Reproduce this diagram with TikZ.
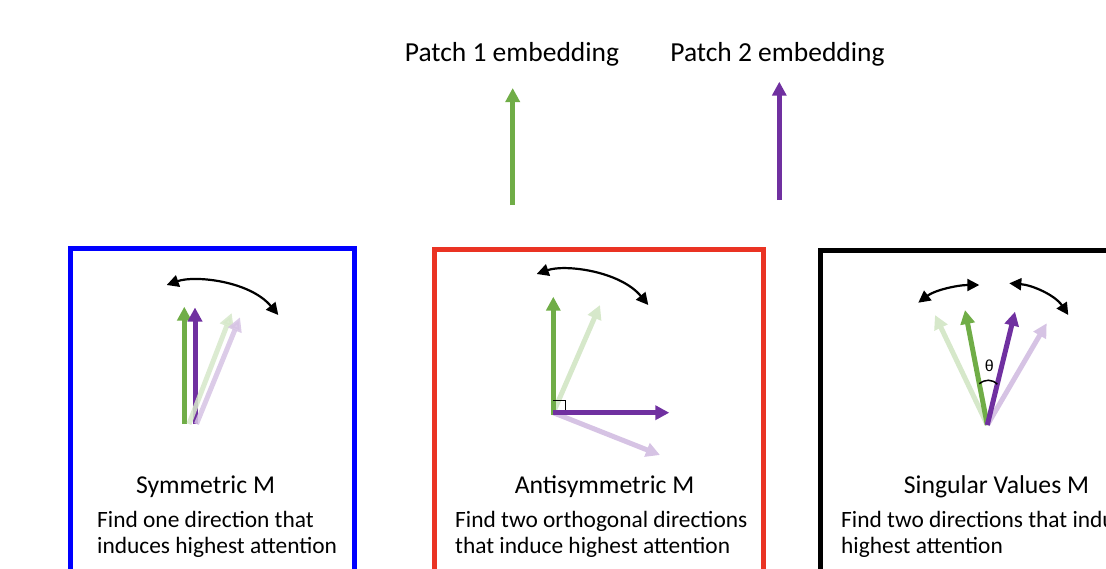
\documentclass[tikz,border=0pt]{standalone}
\usepackage{fontspec}
\setmainfont{Carlito}
\newfontfamily\thetafont{Liberation Sans}
\usetikzlibrary{arrows.meta,calc}
\definecolor{pgreen}{RGB}{112,173,71}
\definecolor{ppurple}{RGB}{112,48,160}
\definecolor{lgreen}{RGB}{214,232,202}
\definecolor{lpurple}{RGB}{214,195,228}
\definecolor{bblue}{RGB}{0,0,255}
\definecolor{rred}{RGB}{234,51,35}
\begin{document}
\begin{tikzpicture}[x=1pt,y=-1pt,
  vec/.style={line width=5pt,-{Triangle[length=14pt,width=14pt]}},
  gvec/.style={vec,draw=pgreen,fill=pgreen},
  pvec/.style={vec,draw=ppurple,fill=ppurple},
  lgvec/.style={vec,draw=lgreen,fill=lgreen},
  lpvec/.style={vec,draw=lpurple,fill=lpurple},
  rot/.style={line width=2.2pt,draw=black,{Triangle[length=12pt,width=12pt]}-{Triangle[length=12pt,width=12pt]}},
  panel/.style={line width=5pt},
  title/.style={font=\fontsize{25.7}{30}\selectfont,anchor=base,inner sep=0pt},
  desc/.style={font=\fontsize{23.4}{28}\selectfont,anchor=base west,inner sep=0pt},
  lbl/.style={font=\fontsize{27.5}{33}\selectfont,anchor=base,inner sep=0pt}]
\useasboundingbox (0,0) rectangle (1106,568);
\clip (0,0) rectangle (1106,568);

% top labels and arrows
\node[lbl] (p1) at (512,61) {Patch 1 embedding};
\node[lbl] (p2) at (777.5,61) {Patch 2 embedding};
\coordinate (t1a) at (512.7,205);
\coordinate (t1b) at (512.7,88);
\coordinate (t2a) at (779.3,200);
\coordinate (t2b) at (779.3,81.7);
\draw[gvec] (t1a) -- (t1b);
\draw[pvec] (t2a) -- (t2b);

% panels
\draw[panel,draw=bblue] (70.7,600) -- (70.7,248.7) -- (354,248.7) -- (354,600);
\draw[panel,draw=rred] (434.5,600) -- (434.5,249.3) -- (763.5,249.3) -- (763.5,600);
\draw[panel,draw=black] (820.3,600) -- (820.3,250.3) -- (1120,250.3);

% panel 1: symmetric
\coordinate (s1g0) at (184.3,424);
\coordinate (s1g1) at (184.3,306.7);
\coordinate (s1p0) at (195,424);
\coordinate (s1p1) at (195,307.5);
\coordinate (s1lg0) at (189,424);
\coordinate (s1lg1) at (231.7,313);
\coordinate (s1lp0) at (196.5,424);
\coordinate (s1lp1) at (240,317.3);
\draw[gvec] (s1g0) -- (s1g1);
\draw[pvec] (s1p0) -- (s1p1);
\draw[lgvec,opacity=0.85] (s1lg0) -- (s1lg1);
\draw[lpvec,opacity=0.85] (s1lp0) -- (s1lp1);
\coordinate (s1ra) at (166.7,285);
\coordinate (s1rb) at (278.3,315);
\draw[rot] (s1ra) .. controls (195,275) and (250,281) .. (s1rb);
\node[title] (s1t) at (205.5,493) {Symmetric M};
\node[desc] (s1d1) at (97,527) {Find one direction that};
\node[desc] (s1d2) at (97,553) {induces highest attention};

% panel 2: antisymmetric
\coordinate (s2o) at (553.3,412.7);
\coordinate (s2g1) at (553.3,296.7);
\coordinate (s2lg1) at (600,305);
\coordinate (s2p1) at (669.3,412.7);
\coordinate (s2lp1) at (660,455);
\draw[lgvec] (s2o) -- (s2lg1);
\draw[lpvec] (s2o) -- (s2lp1);
\draw[gvec] ($(s2o)+(0,2.5)$) -- (s2g1);
\draw[pvec] (s2o) -- (s2p1);
\coordinate (s2q1) at (553.3,400.7);
\coordinate (s2q2) at (565.7,400.7);
\coordinate (s2q3) at (565.7,410.2);
\draw[line width=1.5pt,black] (s2q1) -- (s2q2) -- (s2q3);
\coordinate (s2ra) at (536.7,274);
\coordinate (s2rb) at (648.3,305);
\draw[rot] (s2ra) .. controls (565,264) and (620,271) .. (s2rb);
\node[title] (s2t) at (604.5,493) {Antisymmetric M};
\node[desc] (s2d1) at (455,527) {Find two orthogonal directions};
\node[desc] (s2d2) at (455,553) {that induce highest attention};

% panel 3: singular values
\coordinate (s3o) at (987.3,425);
\coordinate (s3g1) at (965,310);
\coordinate (s3p1) at (1015,311.7);
\coordinate (s3lg1) at (935,315);
\coordinate (s3lp1) at (1046.7,323.3);
\draw[lgvec] (s3o) -- (s3lg1);
\draw[lpvec] (s3o) -- (s3lp1);
\draw[gvec] (s3o) -- (s3g1);
\draw[pvec] (s3o) -- (s3p1);
\coordinate (s3a1) at ($(s3o)!42pt!(s3g1)$);
\coordinate (s3a2) at ($(s3o)!42pt!(s3p1)$);
\draw[line width=1.5pt,black] (s3a1) .. controls (985,379) and (992,379) .. (s3a2);
\node[font=\thetafont\fontsize{16}{19}\selectfont,inner sep=0pt] (s3th) at (989.3,366) {θ};
\coordinate (s3ra) at (918.3,302.7);
\coordinate (s3rb) at (979.3,285);
\draw[rot] (s3ra) .. controls (935,290) and (958,285) .. (s3rb);
\coordinate (s3rc) at (1009.3,283.3);
\coordinate (s3rd) at (1068.3,315);
\draw[rot] (s3rc) .. controls (1032,285) and (1055,295) .. (s3rd);
\node[title] (s3t) at (996.5,493) {Singular Values M};
\node[desc] (s3d1) at (841,527) {Find two directions that induce};
\node[desc] (s3d2) at (841,553) {highest attention};
\end{tikzpicture}
\end{document}
